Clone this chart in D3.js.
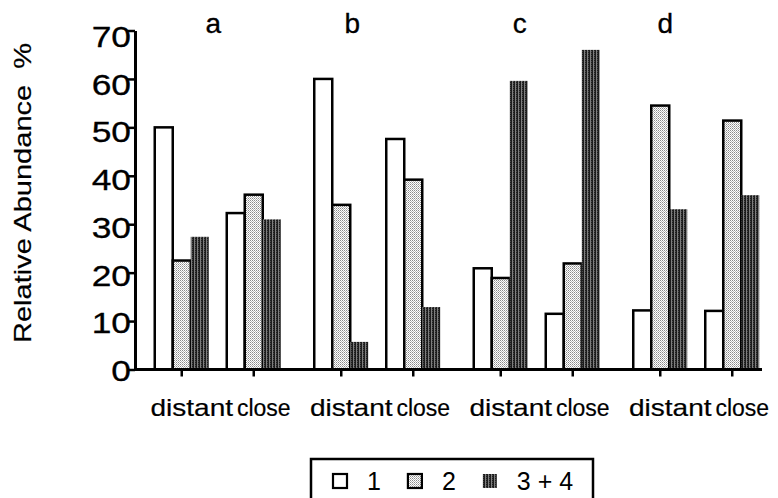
<!DOCTYPE html>
<html>
<head>
<meta charset="utf-8">
<script src="https://cdn.jsdelivr.net/npm/d3@7"></script>
<style>
  html, body { margin: 0; padding: 0; background: #fff; }
  svg { display: block; font-family: "Liberation Sans", Arial, Helvetica, sans-serif; }
</style>
</head>
<body>
<svg id="chart" width="778" height="498"></svg>
<script>
// ---- data -------------------------------------------------------------
const groups = ["a", "b", "c", "d"];
const conditions = ["distant", "close"];
const seriesNames = ["1", "2", "3 + 4"];
// relative abundance (%), ordered a-distant, a-close, b-distant, b-close, ...
const series1 = [50.0, 32.3, 60.0, 47.6, 20.9, 11.5, 12.2, 12.1];
const series2 = [22.5, 36.1, 34.0, 39.2, 18.9, 21.9, 54.5, 51.4];
const series3 = [27.4, 31.0, 5.7, 12.9, 59.6, 66.0, 33.1, 36.0];
const yTicks = [0, 10, 20, 30, 40, 50, 60, 70];
const yLabel = "Relative Abundance  %";

// ---- layout -----------------------------------------------------------
const W = 778, H = 498;
const axisX = 135, plotRight = 762;
const titleShift = [-4.5, -25, -17, -31];          // panel letter offsets
const labelStretch = { distant: 1.22, close: 1.0 }; // tick label widths

const svg = d3.select("#chart");
svg.append("rect").attr("width", W).attr("height", H).attr("fill", "#fff");

// fill textures
const defs = svg.append("defs");
const light = defs.append("pattern").attr("id", "fill2")
  .attr("patternUnits", "userSpaceOnUse").attr("width", 2).attr("height", 2);
light.append("rect").attr("width", 2).attr("height", 2).attr("fill", "#fff");
light.append("rect").attr("x", 0).attr("y", 0).attr("width", 1).attr("height", 1).attr("fill", "#8a8a8a");
light.append("rect").attr("x", 1).attr("y", 1).attr("width", 1).attr("height", 1).attr("fill", "#b8b8b8");

const dark = defs.append("pattern").attr("id", "fill3")
  .attr("patternUnits", "userSpaceOnUse").attr("width", 3).attr("height", 2);
dark.append("rect").attr("width", 3).attr("height", 2).attr("fill", "#1c1c1c");
dark.append("rect").attr("x", 2).attr("y", 0).attr("width", 1).attr("height", 2).attr("fill", "#7e7e7e");
dark.append("rect").attr("x", 0).attr("y", 1).attr("width", 1).attr("height", 1).attr("fill", "#4a4a4a");

const fills = { "1": "#fff", "2": "url(#fill2)", "3 + 4": "url(#fill3)" };
const strokes = { "1": "#000", "2": "#000", "3 + 4": "none" };

// ---- scales -----------------------------------------------------------
const y = d3.scaleLinear().domain([0, 70]).range([369.5, 30.5]);
// tick numbers sit on a slightly shorter span than the tick marks
const yText = d3.scaleLinear().domain([0, 70]).range([380.5, 46.5]);
const x0 = d3.scaleBand().domain(groups).range([138, 776]);
const x1 = d3.scaleBand().domain(conditions).range([0, x0.bandwidth()])
  .paddingInner(0.25).paddingOuter(0.2326);
const x2 = d3.scaleBand().domain(seriesNames).range([0, x1.bandwidth()]);

const seriesValues = [series1, series2, series3];
const rows = [];
groups.forEach((g, gi) => conditions.forEach((c, ci) => {
  const i = gi * conditions.length + ci;
  seriesNames.forEach((s, k) => rows.push({ g, c, s, v: seriesValues[k][i] }));
}));

// ---- bars -------------------------------------------------------------
svg.append("g").selectAll("rect")
  .data(rows)
  .join("rect")
  .attr("x", d => x0(d.g) + x1(d.c) + x2(d.s))
  .attr("y", d => y(d.v))
  .attr("width", x2.bandwidth())
  .attr("height", d => y(0) - y(d.v))
  .attr("fill", d => fills[d.s])
  .attr("stroke", d => strokes[d.s])
  .attr("stroke-width", 2.5);

// ---- y axis -----------------------------------------------------------
const gy = svg.append("g")
  .attr("transform", `translate(${axisX},0)`)
  .call(d3.axisLeft(y).tickValues(yTicks).tickSize(8).tickSizeOuter(0));
gy.attr("font-size", null).attr("font-family", null);
gy.select(".domain").attr("stroke", "#000").attr("stroke-width", 3);
gy.selectAll(".tick line").attr("stroke", "#000").attr("stroke-width", 2.5);
gy.selectAll(".tick text")
  .attr("x", null).attr("dy", null)
  .attr("transform", d => `translate(-4,${yText(d) - y(d)}) scale(1.22,1)`)
  .attr("font-size", 29)
  .attr("fill", "#000")
  .attr("stroke", "#000").attr("stroke-width", 0.3);

// baseline
svg.append("line")
  .attr("x1", axisX).attr("x2", plotRight)
  .attr("y1", y(0)).attr("y2", y(0))
  .attr("stroke", "#000").attr("stroke-width", 3);

// ---- x axes (one per panel) --------------------------------------------
groups.forEach(g => {
  const gx = svg.append("g")
    .attr("transform", `translate(${x0(g)},${y(0)})`)
    .call(d3.axisBottom(x1).tickSize(7).tickSizeOuter(0));
  gx.attr("font-size", null).attr("font-family", null);
  gx.select(".domain").remove();
  gx.selectAll(".tick line").attr("stroke", "#000").attr("stroke-width", 2.5);
  gx.selectAll(".tick text")
    .attr("y", null).attr("dy", null)
    .attr("transform", d => `translate(10,46.5) scale(${labelStretch[d]},1)`)
    .attr("font-size", 23)
    .attr("fill", "#000")
    .attr("stroke", "#000").attr("stroke-width", 0.2);
});

// panel letters
svg.append("g").selectAll("text")
  .data(groups)
  .join("text")
  .attr("x", (g, i) => x0(g) + x0.bandwidth() / 2 + titleShift[i])
  .attr("y", 33.3)
  .attr("text-anchor", "middle")
  .attr("font-size", 28)
  .attr("fill", "#000")
  .attr("stroke", "#000").attr("stroke-width", 0.3)
  .text(g => g);

// y-axis title
svg.append("text")
  .attr("transform", "translate(31,343) rotate(-90) scale(1.21,1)")
  .attr("font-size", 24)
  .attr("fill", "#000")
  .attr("stroke", "#000").attr("stroke-width", 0.2)
  .style("white-space", "pre")
  .text(yLabel);

// ---- legend -----------------------------------------------------------
const legend = svg.append("g");
legend.append("rect")
  .attr("x", 311).attr("y", 459).attr("width", 282).attr("height", 60)
  .attr("fill", "#fff").attr("stroke", "#000").attr("stroke-width", 2.5);

let lx = 333;
seriesNames.forEach(s => {
  legend.append("rect")
    .attr("x", lx).attr("y", 474).attr("width", 14).attr("height", 14)
    .attr("fill", fills[s]).attr("stroke", strokes[s]).attr("stroke-width", 2.2);
  const t = legend.append("text")
    .attr("x", lx + 34).attr("y", 490)
    .attr("font-size", 25).attr("fill", "#000")
    .text(s);
  lx = lx + 34 + t.node().getComputedTextLength() + 27;
});
</script>
</body>
</html>
